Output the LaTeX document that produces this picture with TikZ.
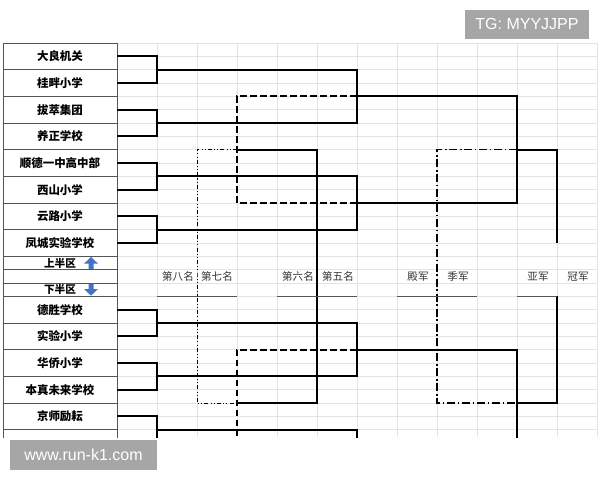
\documentclass[tikz,border=0pt]{standalone}
\usepackage{fontspec}
\setmainfont{Noto Sans CJK SC}
\newfontfamily\wmfont{Liberation Sans}
\definecolor{gridgray}{RGB}{228,228,228}
\definecolor{cellgray}{RGB}{85,85,85}
\definecolor{arrowblue}{RGB}{68,114,196}
\definecolor{markgray}{RGB}{166,166,166}

\tikzset{
  team/.style={draw=cellgray,line width=0.6pt,minimum width=85.5pt,minimum height=20pt,
    inner sep=0pt,outer sep=0pt,font=\bfseries\fontsize{8.6}{9}\selectfont},
  half/.style={team,minimum height=10pt,font=\bfseries\fontsize{8}{9}\selectfont},
  place/.style={inner sep=0pt,text=black!80,font=\fontsize{7.9}{9}\selectfont},
  win/.style={line width=1.4pt},
  lose/.style={line width=1.4pt,dash pattern=on 5pt off 2.5pt},
  third/.style={line width=1.2pt,dash pattern=on 6pt off 2pt on 1.2pt off 2pt},
  eighth/.style={line width=0.6pt,dash pattern=on 3pt off 1.6pt on 0.8pt off 1.6pt on 0.8pt off 1.6pt},
  wmbox/.style={fill=markgray,text=white,inner sep=0pt,font=\wmfont\fontsize{12}{14}\selectfont}
}

\begin{document}
\begin{tikzpicture}[x=0.75pt,y=-10pt]
\useasboundingbox (0,-3.225) rectangle (600,32.775);

\begin{scope}
\clip (0,0) rectangle (600,29.55);

% spreadsheet grid behind everything
\foreach \r in {0,...,29}
    \draw[gridgray,line width=0.5pt] (117,\r)--(597,\r);
\foreach \k in {0,...,12}
    \draw[gridgray,line width=0.5pt] (117+40*\k,0)--(117+40*\k,29.55);

% team list, upper half then lower half
\foreach \n/\name in {1/大良机关,2/桂畔小学,3/拔萃集团,4/养正学校,
                      5/顺德一中高中部,6/西山小学,7/云路小学,8/凤城实验学校}
    \node[team] (t\n) at (60,2*\n-1) {\name};
\foreach \n/\name in {9/德胜学校,10/实验小学,11/华侨小学,12/本真未来学校,13/京师励耘,14/{}}
    \node[team] (t\n) at (60,2*\n+2) {\name};

\node[half] (up) at (60,16.5) {};
\node[half] (down) at (60,18.5) {};
\node[inner sep=0pt,font=\bfseries\fontsize{8}{9}\selectfont] (uptxt) at (60,16.5) {上半区};
\node[inner sep=0pt,font=\bfseries\fontsize{8}{9}\selectfont] (downtxt) at (60,18.5) {下半区};
\fill[arrowblue] (91,16.05)--(98,16.55)--(93.5,16.55)--(93.5,16.95)--(88.5,16.95)--(88.5,16.55)--(84,16.55)--cycle;
\fill[arrowblue] (91,18.95)--(98,18.45)--(93.5,18.45)--(93.5,18.05)--(88.5,18.05)--(88.5,18.45)--(84,18.45)--cycle;
\draw[cellgray,line width=0.6pt] (3,0)--(3,29.55) (117,0)--(117,29.55);

% junctions of the draw
\foreach \n/\y in {1/2,2/6,3/10,4/14,5/21,6/25,7/29}
    \coordinate (r\n) at (157,\y);
\coordinate (q1) at (357,4);  \coordinate (q2) at (357,12);
\coordinate (q3) at (357,23); \coordinate (q4) at (357,31);
\coordinate (s1) at (517,8);  \coordinate (s2) at (517,27);
\coordinate (l1) at (237,8);  \coordinate (l2) at (237,27);
\coordinate (c7) at (197,17.5); \coordinate (c5) at (317,17.5);
\coordinate (c3) at (437,17.5);
\coordinate (f1) at (557,15); \coordinate (f2) at (557,19);

% losers' brackets first, winners on top
\draw[lose] (q1) -| (l1) |- (q2);
\draw[lose] (q3) -| (l2) |- (q4);
\draw[eighth] (l1) -| (c7) |- (l2);
\draw[third] (s1) -| (c3) |- (s2);

\foreach \a/\b/\r in {1/2/1,3/4/2,5/6/3,7/8/4,9/10/5,11/12/6}
    \draw[win] (t\a.east) -| (r\r) |- (t\b.east);
\draw[win] (t13.east) -| (r7) |- (t14.east);

\draw[win] (r1) -| (q1) |- (r2);
\draw[win] (r3) -| (q2) |- (r4);
\draw[win] (r5) -| (q3) |- (r6);
\draw[win] (r7) -| (q4);
\draw[win] (q1) -| (s1) |- (q2);
\draw[win] (q3) -| (s2) |- (q4);
\draw[win] (l1) -| (c5) |- (l2);
\draw[win] (s1) -| (f1);
\draw[win] (s2) -| (f2);

% places
\foreach \i/\x/\txt in {8/178/第八名,7/217/第七名,6/298/第六名,5/338/第五名,
                        4/418/殿军,3/458/季军,2/538/亚军,1/578/冠军}
    \node[place] (p\i) at (\x,17.5) {\txt};
\foreach \a/\b in {157/237,277/357,397/477,517/557}
    \draw[cellgray,line width=0.6pt] (\a,19)--(\b,19);
\end{scope}

% marks laid over the sheet
\node[wmbox,minimum width=93pt,minimum height=21.75pt] (tg) at (527,-1.39) {TG: MYYJJPP};
\node[wmbox,minimum width=110pt,minimum height=22.5pt] (site) at (83.5,30.9) {www.run-k1.com};
\end{tikzpicture}
\end{document}
